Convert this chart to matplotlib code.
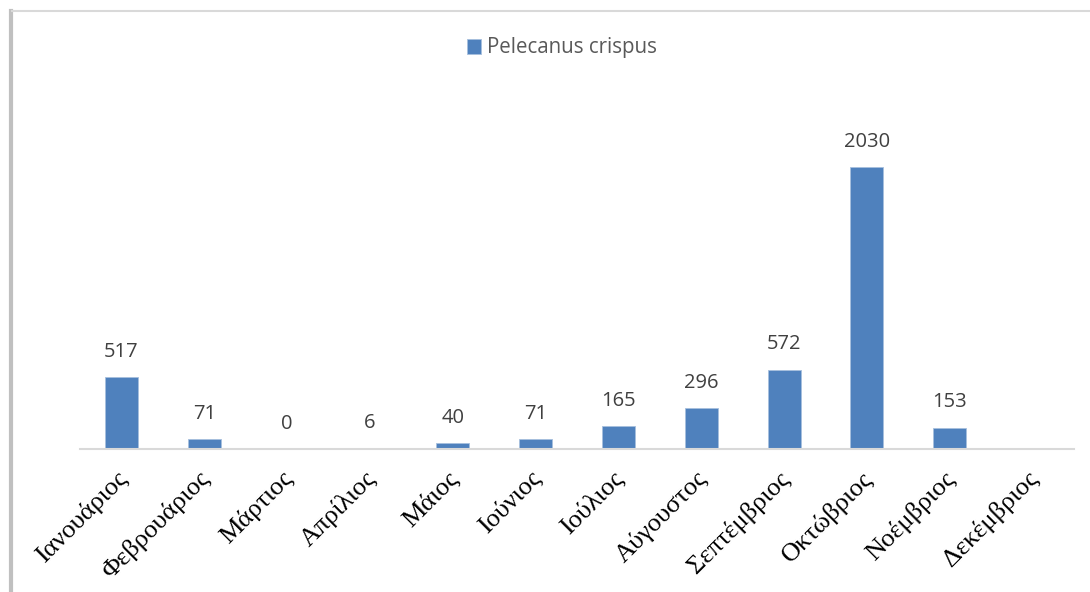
import matplotlib.pyplot as plt
import matplotlib.transforms as mtransforms
from matplotlib.lines import Line2D

months = ['Ιανουάριος', 'Φεβρουάριος', 'Μάρτιος', 'Απρίλιος', 'Μάιος', 'Ιούνιος',
          'Ιούλιος', 'Αύγουστος', 'Σεπτέμβριος', 'Οκτώβριος', 'Νοέμβριος', 'Δεκέμβριος']
counts = [517, 71, 0, 6, 40, 71, 165, 296, 572, 2030, 153, None]
series_name = 'Pelecanus crispus'

W, H = 1090, 592
fig = plt.figure(figsize=(W / 100, H / 100), dpi=100)
fig.patch.set_facecolor('white')

# plot area in pixels: x 80..1074, baseline at y=449
left, right, base, top = 80, 1074, 449, 60
ax = fig.add_axes([left / W, 1 - base / H, (right - left) / W, (base - top) / H])

xs = list(range(len(months)))
vals = [v if v is not None else 0 for v in counts]
bars = ax.bar(xs, vals, width=0.4, color='#4f81bd', edgecolor='#a7bfdd', linewidth=0.6,
              label=series_name, zorder=2)
for x, v in zip(xs, counts):
    if v is None:
        continue
    ax.annotate(str(v), (x, v), xytext=(0, 11), textcoords='offset points',
                ha='center', va='bottom', fontsize=14.5, color='#404040',
                family=['Open Sans', 'DejaVu Sans'])

ax.set_xlim(-0.5, len(months) - 0.5)
ax.set_ylim(0, (base - top) * 2030 / 282)
ax.set_yticks([])
ax.set_xticks(xs)
ax.set_xticklabels(months, rotation=45, ha='right', rotation_mode='anchor',
                   fontsize=19, family='Liberation Serif', color='black')
ax.tick_params(axis='x', length=0, pad=13)
shift = mtransforms.ScaledTranslation(-6 / 100, 0, fig.dpi_scale_trans)
for lab in ax.get_xticklabels():
    lab.set_transform(lab.get_transform() + shift)
for s in ['top', 'right', 'left']:
    ax.spines[s].set_visible(False)
ax.spines['bottom'].set_color('#d9d9d9')
ax.spines['bottom'].set_linewidth(1.5)

ax.legend(loc='center', bbox_to_anchor=((562 - left) / (right - left), (base - 48) / (base - top)),
          frameon=False, handlelength=0.7, handleheight=0.7, handletextpad=0.3,
          prop={'family': ['Open Sans', 'DejaVu Sans'], 'size': 14.8}, labelcolor='#595959')

# outer frame lines
fig.add_artist(Line2D([10.5 / W, 10.5 / W], [0, 1 - 11 / H], transform=fig.transFigure,
                      color='#c0c0c0', linewidth=3))
fig.add_artist(Line2D([12 / W, 1], [1 - 11 / H, 1 - 11 / H], transform=fig.transFigure,
                      color='#d9d9d9', linewidth=1.5))

fig.savefig('out.png', dpi=100, facecolor='white')
